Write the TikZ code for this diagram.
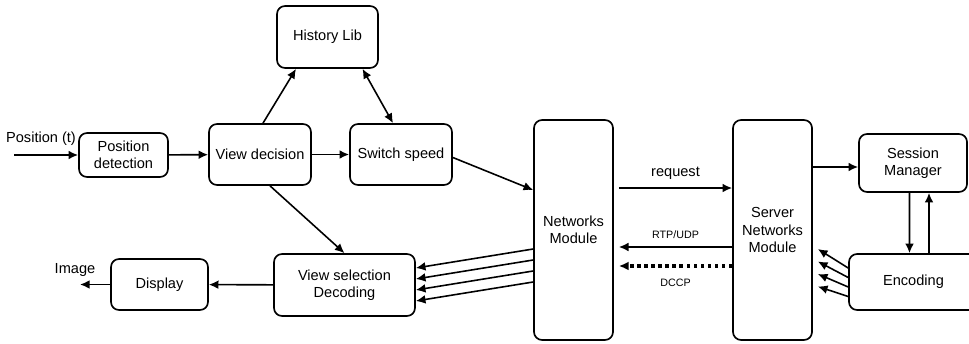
\documentclass[tikz,border=0pt]{standalone}
\usepackage{fontspec}
\setmainfont{Liberation Sans}
\usetikzlibrary{arrows.meta}
\begin{document}
\begin{tikzpicture}[x=0.02cm,y=-0.02cm,>={Latex[length=5.5pt,width=5pt]},font=\fontsize{8.3}{9.8}\selectfont]
  \tikzstyle{block}=[draw,rounded corners=0.16cm,line width=0.95pt,align=center,inner sep=0pt]
  \tikzstyle{link}=[->,line width=0.9pt]
  \tikzstyle{texto}=[inner sep=1pt]
  \useasboundingbox (0,0) rectangle (969,344);

  \node [block,minimum width=2.02cm,minimum height=1.24cm] (c1) at (327.5,37) {History Lib};
  \node [block,minimum width=1.78cm,minimum height=0.88cm] (c2) at (123.5,155) {Position\\detection};
  \node [block,minimum width=2.04cm,minimum height=1.22cm] (c3) at (260,154.5) {View decision};
  \node [block,minimum width=2.04cm,minimum height=1.22cm] (c4) at (401,154.5) {Switch speed};
  \node [block,minimum width=1.58cm,minimum height=4.4cm] (c5) at (573.5,230) {Networks\\Module};
  \node [block,minimum width=1.58cm,minimum height=4.4cm] (c6) at (772.5,230) {Server\\Networks\\Module};
  \node [block,minimum width=2.16cm,minimum height=1.16cm] (c7) at (913,163) {Session\\Manager};
  \node [block,minimum width=2.58cm,minimum height=1.12cm] (c8) at (913.5,282) {Encoding};
  \node [block,minimum width=2.82cm,minimum height=1.24cm] (c9) at (344.5,285) {View selection\\Decoding};
  \node [block,minimum width=1.94cm,minimum height=1.02cm] (c10) at (159.5,284.5) {Display};

  \coordinate (in) at (14,155);
  \coordinate (out) at (80,284.5);
  \node [texto] (p1) at (41,139) {Position (t)};
  \node [texto] (p2) at (75,270) {Image};

  \draw [link] (in) -- (c2);
  \draw [link] (c2) -- (c3);
  \draw [link] (c3) -- (c4);
  \draw [link] ([xshift=0.06cm]c3.north) -- ([xshift=-0.63cm]c1.south);
  \draw [link,<->] ([xshift=0.7cm]c1.south) -- ([xshift=-0.16cm]c4.north);
  \draw [link] ([yshift=-0.06cm]c4.east) -- ([yshift=0.8cm]c5.west);
  \draw [link] ([xshift=0.2cm]c3.south) -- (c9.north);
  \foreach \i in {0,1,2,3}
    \draw [link] ([yshift={-0.38cm-\i*0.22cm}]c5.west) -- ([yshift={0.34cm-\i*0.22cm}]c9.east);
  \draw [link] ([xshift=0.1cm,yshift=0.84cm]c5.east) -- node [above=1pt] {request} ([yshift=0.84cm]c6.west);
  \draw [link] ([yshift=-0.34cm]c6.west) -- node [above=1pt,font=\fontsize{6.1}{7}\selectfont] {RTP/UDP} ([xshift=0.1cm,yshift=-0.34cm]c5.east);
  \draw [->,line width=1.8pt,dash pattern=on 2pt off 2pt] ([yshift=-0.72cm]c6.west) -- node [below=3pt,font=\fontsize{6.1}{7}\selectfont] {DCCP} ([xshift=0.1cm,yshift=-0.72cm]c5.east);
  \draw [link] ([yshift=1.26cm]c6.east) -- ([yshift=-0.08cm]c7.west);
  \draw [link] ([xshift=-0.07cm]c7.south) -- ([xshift=-0.08cm]c8.north);
  \draw [link] ([xshift=0.31cm]c8.north) -- ([xshift=0.32cm]c7.south);
  \foreach \i in {0,1,2,3}
    \draw [link] ([yshift={0.28cm-\i*0.19cm}]c8.west) -- ([xshift=0.1cm,yshift={-0.38cm-\i*0.25cm}]c6.east);
  \draw [link] (c9) -- (c10);
  \draw [link] (c10) -- (out);
\end{tikzpicture}
\end{document}
